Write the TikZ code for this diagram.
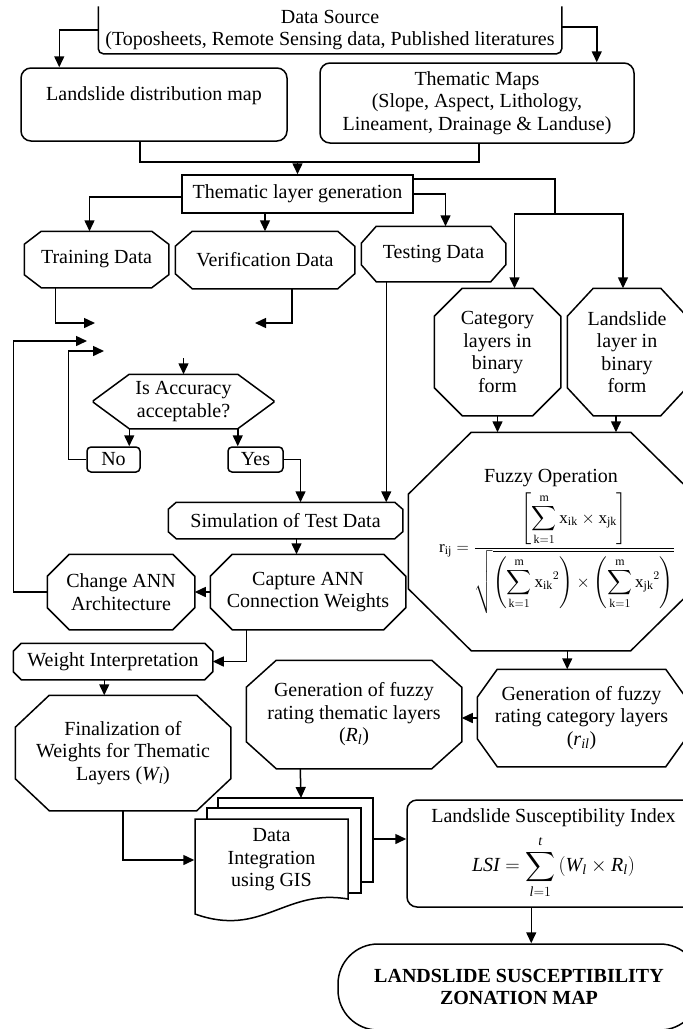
\RequirePackage{fix-cm}
\documentclass[tikz,border=0pt]{standalone}
\usepackage{amsmath}
\usepackage{fontspec}
\setmainfont{Liberation Serif}
\usetikzlibrary{arrows.meta}
\usetikzlibrary{calc}

% octagon outline round a node: name, x cut, y cut
\newcommand{\octo}[3]{%
  \draw ([xshift=#2pt]#1.north west) -- ([xshift=-#2pt]#1.north east)
    -- ([yshift=-#3pt]#1.north east) -- ([yshift=#3pt]#1.south east)
    -- ([xshift=-#2pt]#1.south east) -- ([xshift=#2pt]#1.south west)
    -- ([yshift=#3pt]#1.south west) -- ([yshift=-#3pt]#1.north west) -- cycle;}

\begin{document}
\begin{tikzpicture}[
      x = 1pt, y = -1pt,
      line width = 1.5pt,
      > = {Triangle[length=11pt, width=10pt]},
      box/.style = {inner sep=0pt, align=center,
                    font=\fontsize{20}{22.5}\selectfont},
      rbox/.style = {box, draw, rounded corners=10pt},
      sbox/.style = {box, draw, rounded corners=4pt}
  ]
  \useasboundingbox (0,0) rectangle (683,1029);
  \clip (0,0) rectangle (683,1029);

  % Stacked sheets behind the integration node
  \draw[fill=white] (218,798) rectangle (373,882);
  \draw[fill=white] (207,808) rectangle (361,893);
  \draw[fill=white] (195,819) -- (348,819) -- (348,899)
     .. controls (285,888) and (262,938) .. (195,914) -- cycle;

  % Define the boxes
  \node[box, minimum width=462pt, minimum height=46pt] (src) at (330,30)
       {Data Source\\(Toposheets, Remote Sensing data, Published literatures};
  \draw[rounded corners=5pt] (src.north west) -- (src.south west)
       -- (src.south east) -- (src.north east);
  \node[rbox, minimum width=266pt, minimum height=73pt] (lds) at (154,104.5)
       {Landslide distribution map\\\mbox{}};
  \node[rbox, minimum width=314pt, minimum height=80pt] (thm) at (477,103)
       {Thematic Maps\\(Slope, Aspect, Lithology,\\Lineament, Drainage \& Landuse)};
  \node[box, draw, minimum width=231pt, minimum height=38pt] (tlg) at (297.5,194)
       {Thematic layer generation};

  \node[box, minimum width=143pt, minimum height=55pt] (trn) at (96.5,259.5)
       {Training Data};
  \octo{trn}{17}{13}
  \node[box, minimum width=178pt, minimum height=56pt] (ver) at (265,260)
       {Verification Data};
  \octo{ver}{17}{15}
  \node[box, minimum width=143pt, minimum height=54pt] (tst) at (433.5,254)
       {Testing Data};
  \octo{tst}{15}{17}
  \node[box, minimum width=125pt, minimum height=126pt] (cat) at (497.5,352)
       {Category\\layers in\\binary\\form};
  \octo{cat}{28}{28}
  \node[box, minimum width=118pt, minimum height=126pt] (lsl) at (627,352)
       {Landslide\\layer in\\binary\\form};
  \octo{lsl}{26}{28}

  \node[box, minimum width=179pt, minimum height=53pt] (acc) at (183.5,401.5)
       {Is Accuracy\\acceptable?};
  \octo{acc}{36}{26.5}
  \node[sbox, minimum width=53pt, minimum height=25pt] (no) at (113.5,459.5) {No};
  \node[sbox, minimum width=55pt, minimum height=25pt] (yes) at (255.5,459.5) {Yes};

  \node[box, minimum width=233pt, minimum height=35pt] (sim) at (285.5,520.5)
       {Simulation of Test Data};
  \octo{sim}{8}{7}
  \node[box, minimum width=146pt, minimum height=74pt] (chg) at (121,592)
       {Change ANN\\Architecture};
  \octo{chg}{22}{22}
  \node[box, minimum width=194pt, minimum height=74pt] (cap) at (308,592)
       {Capture ANN\\Connection Weights};
  \octo{cap}{22}{22}
  \node[box, minimum width=198pt, minimum height=35pt] (wi) at (113,661.5)
       {Weight Interpretation};
  \octo{wi}{8}{8}
  \node[box, minimum width=214pt, minimum height=114pt] (fin) at (123,753)
       {Finalization of\\Weights for Thematic\\Layers ($\mathit{W}_{\mathit{l}}$)};
  \octo{fin}{34}{32}

  \node[box, minimum width=284pt, minimum height=217pt] (fuz) at (551,541.5)
       {Fuzzy Operation\\[5pt]
        \fontsize{17}{20}\selectfont\hspace*{12pt}%
        $\mathrm{r}_{\mathrm{ij}}=\dfrac{\left[\displaystyle\sum_{\mathrm{k}=1}^{\mathrm{m}}
          \mathrm{x}_{\mathrm{ik}}\times\mathrm{x}_{\mathrm{jk}}\right]}
         {\sqrt{\left(\displaystyle\sum_{\mathrm{k}=1}^{\mathrm{m}}\mathrm{x}_{\mathrm{ik}}{}^{2}\right)
          \times\left(\displaystyle\sum_{\mathrm{k}=1}^{\mathrm{m}}\mathrm{x}_{\mathrm{jk}}{}^{2}\right)}}$};
  \octo{fuz}{63}{62}
  \node[box, minimum width=214pt, minimum height=107pt] (gth) at (354,714.5)
       {Generation of fuzzy\\rating thematic layers\\($\mathit{R}_{\mathit{l}}$)};
  \octo{gth}{30}{27}
  \node[box, minimum width=207pt, minimum height=96pt] (gcat) at (581.5,718)
       {Generation of fuzzy\\rating category layers\\($\mathit{r}_{\mathit{il}}$)};
  \octo{gcat}{20}{28}

  \node[box, minimum width=153pt, minimum height=82pt] (doc) at (271.5,860)
       {Data\\Integration\\using GIS};
  \node[rbox, minimum width=293pt, minimum height=107pt] (lsi) at (553.5,853.5)
       {Landslide Susceptibility Index\\[8pt]
        $\mathit{LSI}=\displaystyle\sum_{\mathit{l}=1}^{\mathit{t}}
         \left(\mathit{W}_{\mathit{l}}\times\mathit{R}_{\mathit{l}}\right)$};
  \node[box, draw, rounded corners=40pt, minimum width=362pt, minimum height=86pt]
       (lsz) at (519,987)
       {\textbf{LANDSLIDE SUSCEPTIBILITY}\\\textbf{ZONATION MAP}};

  % Free ends of the connectors
  \coordinate (mrg) at (297.5,162);
  \coordinate (sp) at (555,214);
  \coordinate (in1) at (95,323);
  \coordinate (in2) at (255,323);
  \coordinate (in3) at (87,341);
  \coordinate (in4) at (104,351);
  \coordinate (in5) at (183.5,358);
  \coordinate (bkt) at (301,798);
  \coordinate (bk) at (373,839);

  % Connectors
  \draw[->] (src.west) -| ([xshift=39pt]lds.north west);
  \draw[->] ([yshift=3pt]src.east) -| ([xshift=-38pt]thm.north east);
  \draw ([xshift=-14pt]lds.south) |- (mrg) -| ([xshift=2pt]thm.south);
  \draw[->] (mrg) -- (tlg.north);

  \draw[->] ([yshift=-3pt]tlg.west) -| ([xshift=-7pt]trn.north);
  \draw[->] (ver.north |- tlg.south) -- (ver.north);
  \draw[->] (tlg.east) -| ([xshift=12pt]tst.north);
  \draw ([yshift=15pt]tlg.east) -| (sp);
  \draw[->] (sp) -| ([xshift=17pt]cat.north);
  \draw[->] (sp) -| ([xshift=-4pt]lsl.north);

  \draw[->] ([xshift=31pt]trn.south west) |- (in1);
  \draw[->] ([xshift=-63pt]ver.south east) |- (in2);
  \draw[->] (chg.west) -- ++(-34,0) |- (in3);
  \draw[->] (no.west) -- ++(-18,0) |- (in4);
  \draw[->] (in5) -- (acc.north);

  \coordinate (nt) at ([xshift=36pt]acc.south west);
  \draw[->] (nt) -- (nt |- no.north);
  \coordinate (yt) at ([xshift=-36pt]acc.south east);
  \draw[->] (yt) -- (yt |- yes.north);
  \draw[->] (yes.east) -| ([xshift=15pt]sim.north);
  \coordinate (tb) at ([xshift=25pt]tst.south west);
  \draw[->] (tb) -- (tb |- sim.north);
  \coordinate (sb) at ([xshift=11pt]sim.south);
  \draw[->] (sb) -- (sb |- cap.north);
  \draw[->] (cap.west) -- (chg.east);
  \draw[->] ([xshift=36pt]cap.south west) |- (wi.east);
  \coordinate (wb) at ([xshift=91pt]wi.south west);
  \draw[->] (wb) -- (wb |- fin.north);

  \draw[->] (cat.south) -- (cat.south |- fuz.north);
  \coordinate (lb) at ([xshift=-11pt]lsl.south);
  \draw[->] (lb) -- (lb |- fuz.north);
  \coordinate (fb) at ([xshift=159pt]fuz.south west);
  \draw[->] (fb) -- (fb |- gcat.north);
  \draw[->] (gcat.west) -- (gcat.west -| gth.east);
  \draw[->] ([xshift=54pt]gth.south west) -- (bkt);

  \draw[->] (fin.south) |- (doc.west);
  \draw[->] (bk) -- (bk -| lsi.west);
  \coordinate (lsb) at ([xshift=125pt]lsi.south west);
  \draw[->] (lsb) -- (lsb |- lsz.north);
\end{tikzpicture}
\end{document}
